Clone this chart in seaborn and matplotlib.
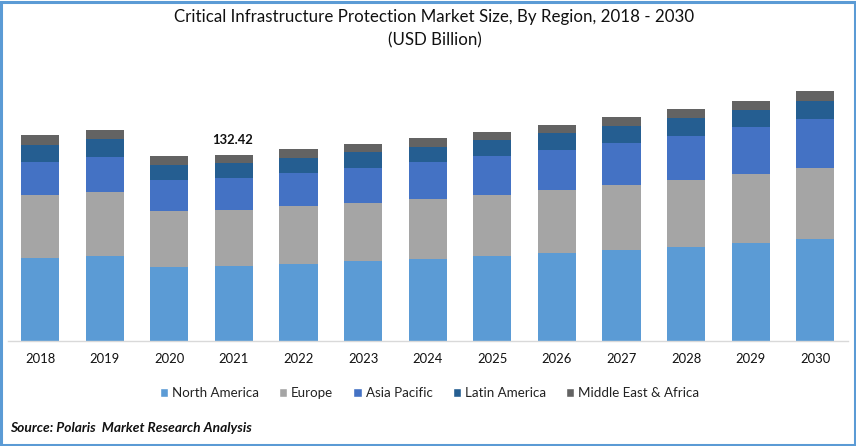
import matplotlib
matplotlib.use("Agg")
import matplotlib.pyplot as plt
from matplotlib.patches import Patch, Rectangle
import numpy as np
import seaborn as sns

years = ["2018","2019","2020","2021","2022","2023","2024","2025","2026","2027","2028","2029","2030"]
north_america = [59.1,60.5,52.7,53.4,54.8,57.0,58.4,60.5,62.7,64.8,66.9,69.8,72.6]
europe = [44.9,45.6,39.9,39.9,41.3,41.3,42.7,43.4,44.9,46.3,47.7,49.1,50.6]
asia_pacific = [23.5,24.9,22.1,22.8,23.5,24.9,26.3,27.8,28.5,29.9,31.3,33.5,34.9]
latin_america = [12.1,12.8,10.7,10.7,10.7,11.4,10.7,11.4,12.1,12.1,12.8,12.1,12.8]
mea = [7.1,6.4,6.4,5.7,6.4,5.7,6.4,5.7,5.7,6.4,6.4,6.4,7.1]
series_names = ["North America","Europe","Asia Pacific","Latin America","Middle East & Africa"]
series_colors = ["#5B9BD5","#A5A5A5","#4472C4","#255E91","#636363"]
label_2021 = "132.42"

sns.set_theme(style="white")
plt.rcParams['font.family'] = ['Lato', 'DejaVu Sans']
W, H = 856, 446
fig = plt.figure(figsize=(W/100, H/100), dpi=100)
ax = fig.add_axes([7.7/W, 1-341/H, 840/W, 281/H])

bottom = np.zeros(len(years))
for name, vals, col in zip(series_names, [north_america, europe, asia_pacific, latin_america, mea], series_colors):
    sns.barplot(x=years, y=vals, bottom=bottom, color=col, saturation=1, width=0.59, ax=ax, linewidth=0, errorbar=None)
    bottom = bottom + np.array(vals)

ax.set_xlim(-0.5, 12.5)
ax.set_ylim(0, 200)
ax.set_yticks([])
ax.set_ylabel("")
for s in ["top","left","right"]:
    ax.spines[s].set_visible(False)
ax.spines["bottom"].set_color("#D9D9D9")
ax.spines["bottom"].set_linewidth(1)
ax.tick_params(axis="x", length=0, pad=8.5, labelsize=9.4, labelcolor="#111111")

ax.text(2.98, bottom[3] + 6, label_2021, ha="center", va="bottom", fontsize=9.4, fontweight="bold", color="#111111")

fig.text(434.5/W, 1-17/H, "Critical Infrastructure Protection Market Size, By Region, 2018 - 2030",
         ha="center", va="center", fontsize=12.2, color="#111111")
fig.text(434.5/W, 1-40/H, "(USD Billion)", ha="center", va="center", fontsize=12.2, color="#111111")

handles = [Patch(facecolor=c, label=n) for n, c in zip(series_names, series_colors)]
fig.legend(handles=handles, loc="center", bbox_to_anchor=(429.5/W, 1-393/H), ncols=5, frameon=False,
           fontsize=9.6, handlelength=0.62, handleheight=0.62, handletextpad=0.3, columnspacing=1.5,
           labelcolor="#222222")

fig.text(10/W, 1-428.5/H, "Source: Polaris  Market Research Analysis", ha="left", va="center",
         fontsize=9.95, fontweight="bold", fontstyle="italic", color="#111111")

fig.add_artist(Rectangle((1.25/W, 1.5/H), (W-2.5)/W, (H-3)/H, transform=fig.transFigure,
                         fill=False, edgecolor="#5B9BD5", linewidth=2.2))
fig.savefig("out.png", dpi=100)
